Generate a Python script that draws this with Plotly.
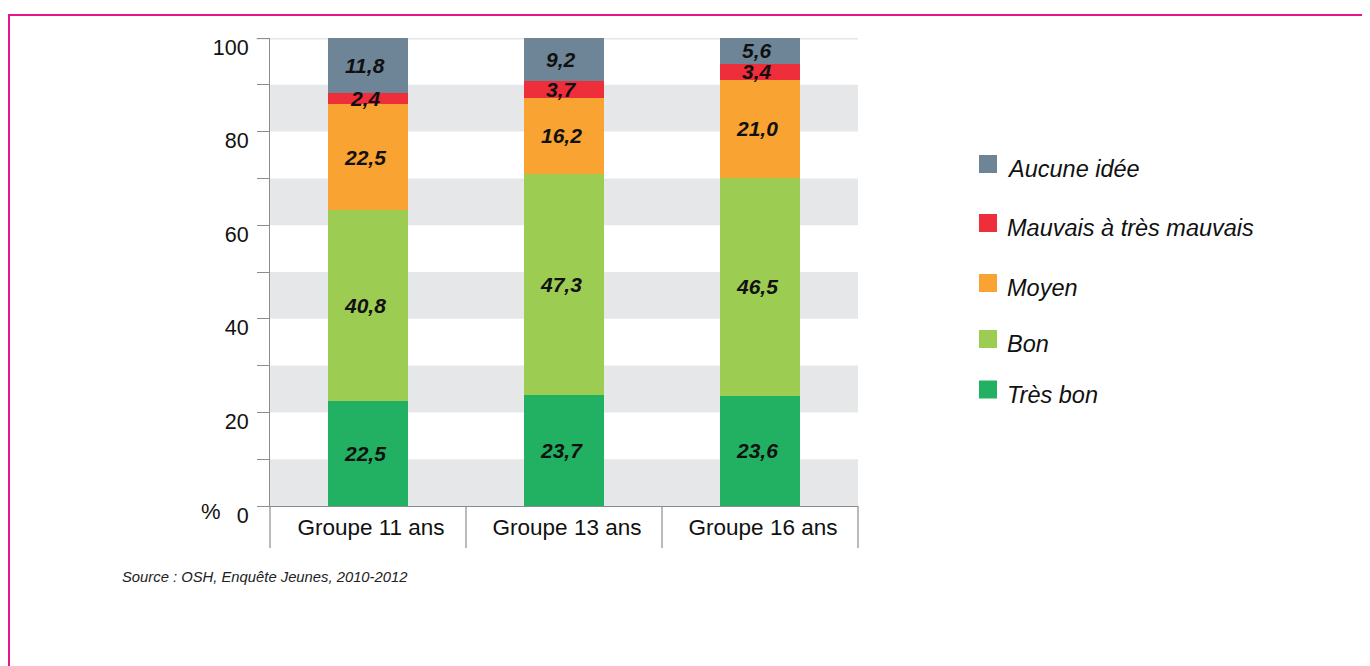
import plotly.graph_objects as go

categories = ["Groupe 11 ans", "Groupe 13 ans", "Groupe 16 ans"]
series_names = ["Très bon", "Bon", "Moyen", "Mauvais à très mauvais", "Aucune idée"]
tres_bon = [22.5, 23.7, 23.6]
bon = [40.8, 47.3, 46.5]
moyen = [22.5, 16.2, 21.0]
mauvais = [2.4, 3.7, 3.4]
aucune = [11.8, 9.2, 5.6]
series_values = [tres_bon, bon, moyen, mauvais, aucune]
colors = ["#22b162", "#9dcc52", "#f8a332", "#ee2e3a", "#6e8597"]
y_ticks = [0, 10, 20, 30, 40, 50, 60, 70, 80, 90, 100]
y_tick_labels = ["0", "", "20", "", "40", "", "60", "", "80", "", "100"]
source_text = "Source : OSH, Enquête Jeunes, 2010-2012"

OFF = 8  # page body margin
W, H = 1370 - OFF, 666 - OFF
L, R, T, B = 270 - OFF, 858 - OFF, 38 - OFF, 506 - OFF
FONT = "Liberation Sans, Arial, sans-serif"


def px_x(p):
    return (p - OFF - L) / (R - L)


def px_y(p):
    return (B - (p - OFF)) / (B - T)


fig = go.Figure()
for name, vals, col in zip(series_names, series_values, colors):
    fig.add_trace(go.Bar(
        x=categories, y=vals, name=name, width=0.41,
        marker=dict(color=col, line=dict(width=0)),
        showlegend=False, hoverinfo="x+y+name",
    ))

shapes = []
# alternating grey bands
for i in range(0, 100, 20):
    shapes.append(dict(type="rect", xref="paper", yref="y", x0=0, x1=1, y0=i, y1=i + 10,
                       fillcolor="#e6e7e8", line=dict(width=0), layer="below"))
# top light line at 100
shapes.append(dict(type="line", xref="paper", yref="y", x0=px_x(256), x1=1, y0=100, y1=100,
                   line=dict(color="#e6e6e6", width=3), layer="below"))
# category dividers below axis
n = len(categories)
for k in range(n + 1):
    shapes.append(dict(type="line", xref="paper", yref="paper", x0=k / n, x1=k / n,
                       y0=0, y1=px_y(548), line=dict(color="#8c8c8c", width=1.2)))
# pink frame
shapes.append(dict(type="rect", xref="paper", yref="paper", x0=px_x(9), x1=px_x(1364),
                   y0=px_y(15), y1=px_y(700), line=dict(color="#e5168b", width=2),
                   fillcolor="rgba(0,0,0,0)"))

annotations = []
# value labels
for ci, cat in enumerate(categories):
    base = 0.0
    for vals in series_values:
        v = vals[ci]
        annotations.append(dict(x=cat, y=base + v / 2, xref="x", yref="y", xshift=-3,
                                text="<b><i>" + f"{v:.1f}".replace(".", ",") + "</i></b>",
                                showarrow=False, borderpad=0,
                                font=dict(family=FONT, size=21, color="#111111")))
        base += v

# manual legend (top to bottom: reversed stack order)
legend_centers = [164, 223, 283, 339, 389.5]
for name, col, cy in zip(series_names[::-1], colors[::-1], legend_centers):
    shapes.append(dict(type="rect", xref="paper", yref="paper",
                       x0=px_x(979), x1=px_x(997), y0=px_y(cy - 9), y1=px_y(cy + 9),
                       fillcolor=col, line=dict(width=0)))
    annotations.append(dict(x=px_x(1005), y=px_y(cy + 5), xref="paper", yref="paper",
                            xanchor="left", yanchor="middle", showarrow=False,
                            text="<i>" + name + "</i>",
                            font=dict(family=FONT, size=23.5, color="#111111")))

annotations.append(dict(x=px_x(211), y=px_y(511), xref="paper", yref="paper",
                        xanchor="center", yanchor="middle", showarrow=False, text="%",
                        font=dict(family=FONT, size=22, color="#111111")))
annotations.append(dict(x=px_x(120), y=px_y(577), xref="paper", yref="paper",
                        xanchor="left", yanchor="middle", showarrow=False,
                        text="<i>" + source_text + "</i>",
                        font=dict(family=FONT, size=14.8, color="#222222")))

fig.update_layout(
    width=W, height=H, barmode="stack",
    margin=dict(l=L, r=W - R, t=T, b=H - B, pad=0),
    plot_bgcolor="white", paper_bgcolor="white",
    font=dict(family=FONT, color="#111111"),
    shapes=shapes, annotations=annotations,
    xaxis=dict(range=[-0.5, 2.5], showgrid=False, showline=True, linecolor="#8c8c8c",
               linewidth=1.2, ticks="", tickfont=dict(size=22.5, color="#111111"),
               ticklabelstandoff=1, ticklabelshift=3, fixedrange=True),
    yaxis=dict(range=[0, 100], showgrid=False, zeroline=False, showline=True,
               linecolor="#8c8c8c", linewidth=1.2, ticks="outside", ticklen=12,
               tickcolor="#8c8c8c", tickwidth=1.2, tickvals=y_ticks, ticktext=y_tick_labels,
               tickfont=dict(size=21.5, color="#111111"), ticklabelstandoff=4,
               ticklabelshift=9, fixedrange=True),
)

fig.write_html("out.html")
